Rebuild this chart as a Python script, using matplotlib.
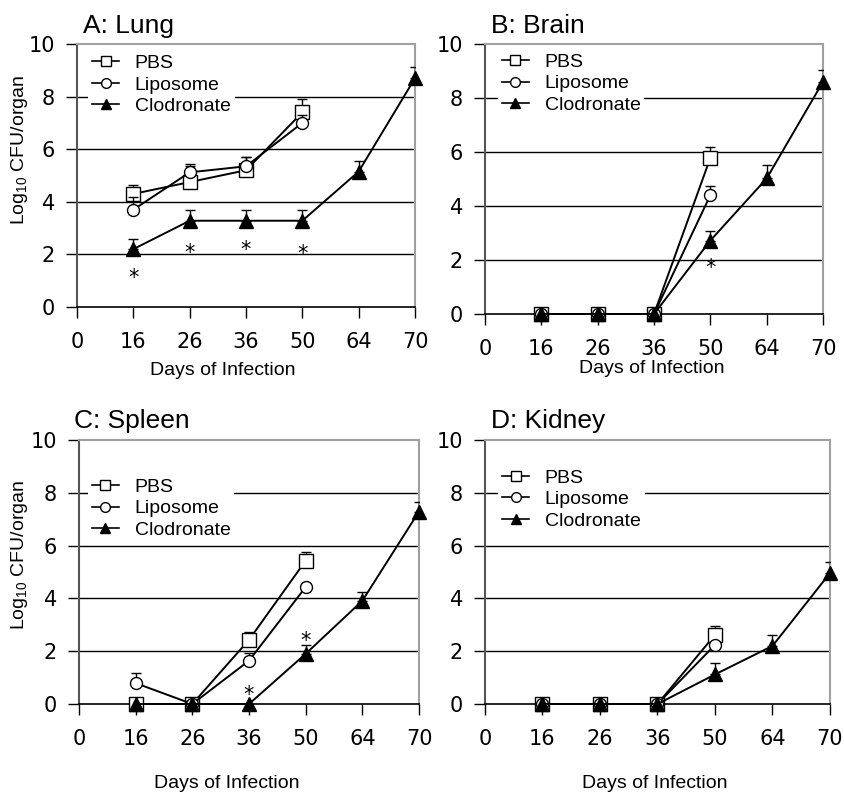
import matplotlib
matplotlib.use('Agg')
import matplotlib.pyplot as plt
from matplotlib.lines import Line2D

plt.rcParams['mathtext.default'] = 'regular'

day_labels = ['0', '16', '26', '36', '50', '64', '70']
early_days = ['16', '26', '36', '50']
all_days = ['16', '26', '36', '50', '64', '70']
legend_labels = ['PBS', 'Liposome', 'Clodronate']

# A: Lung
lung_pbs = [4.3, 4.75, 5.2, 7.4]
lung_pbs_err = [0.35, 0.6, 0.5, 0.5]
lung_lipo = [3.7, 5.12, 5.35, 7.0]
lung_lipo_err = [0.5, 0.3, 0.35, 0.3]
lung_clo = [2.2, 3.28, 3.28, 3.28, 5.15, 8.7]
lung_clo_err = [0.4, 0.42, 0.42, 0.42, 0.42, 0.42]
lung_star_days = ['16', '26', '36', '50']
lung_star_y = [1.36, 2.3, 2.4, 2.25]

# B: Brain
brain_pbs = [0, 0, 0, 5.78]
brain_pbs_err = [0, 0, 0, 0.4]
brain_lipo = [0, 0, 0, 4.4]
brain_lipo_err = [0, 0, 0, 0.35]
brain_clo = [0, 0, 0, 2.72, 5.02, 8.6]
brain_clo_err = [0, 0, 0, 0.37, 0.5, 0.45]
brain_star_days = ['50']
brain_star_y = [1.95]

# C: Spleen
spleen_pbs = [0, 0, 2.43, 5.43]
spleen_pbs_err = [0, 0, 0.3, 0.32]
spleen_lipo = [0.79, 0, 1.64, 4.43]
spleen_lipo_err = [0.38, 0, 0.3, 0]
spleen_clo = [0, 0, 0, 1.9, 3.91, 7.29]
spleen_clo_err = [0, 0, 0, 0.33, 0.33, 0.38]
spleen_star_days = ['36', '50']
spleen_star_y = [0.6, 2.65]

# D: Kidney
kidney_pbs = [0, 0, 0, 2.62]
kidney_pbs_err = [0, 0, 0, 0.32]
kidney_lipo = [0, 0, 0, 2.24]
kidney_lipo_err = [0, 0, 0, 0]
kidney_clo = [0, 0, 0, 1.12, 2.2, 4.96]
kidney_clo_err = [0, 0, 0, 0.42, 0.4, 0.4]
kidney_star_days = []
kidney_star_y = []

W, H = 844, 793
fig = plt.figure(figsize=(W / 100, H / 100), dpi=100)

SANS = 'Liberation Sans'


def px_axes(l, t, r, b):
    return fig.add_axes([l / W, 1 - b / H, (r - l) / W, (b - t) / H])


def xpos(days):
    return [day_labels.index(d) for d in days]


def series(ax, days, vals, errs, marker, mfc, ms, z):
    x = xpos(days)
    ax.plot(x, vals, color='black', lw=1.4, marker=marker, mfc=mfc, mec='black',
            mew=1.0, ms=ms, zorder=z, clip_on=False)
    ex = [xi for xi, e in zip(x, errs) if e > 0]
    ey = [v for v, e in zip(vals, errs) if e > 0]
    ee = [e for e in errs if e > 0]
    if ex:
        ax.errorbar(ex, ey, yerr=[[0] * len(ee), ee], fmt='none', ecolor='black',
                    elinewidth=1.0, capsize=3.5, capthick=1.0, zorder=z - 0.5)


def panel(ax, pbs, pbs_err, lipo, lipo_err, clo, clo_err, sdays, sy, anchor):
    ax.set_xlim(0, 6)
    ax.set_ylim(0, 10)
    ax.set_xticks(range(len(day_labels)))
    ax.set_xticklabels(day_labels)
    ax.set_yticks(range(0, 11, 2))
    for y in [2, 4, 6, 8]:
        ax.axhline(y, color='black', lw=1.0, zorder=1)
    for s in ['top', 'right']:
        ax.spines[s].set_color('#a0a0a0')
        ax.spines[s].set_linewidth(1.5)
    ax.spines['left'].set_color('#555555')
    ax.spines['left'].set_linewidth(1.5)
    ax.spines['bottom'].set_color('black')
    ax.spines['bottom'].set_linewidth(1.2)
    ax.tick_params(axis='both', direction='out', length=8, width=1, color='black',
                   labelsize=15)
    ax.tick_params(axis='x', pad=10)
    ax.tick_params(axis='y', pad=8)
    series(ax, early_days, pbs, pbs_err, 's', 'white', 9.4, 5)
    series(ax, early_days, lipo, lipo_err, 'o', 'white', 8.6, 6)
    series(ax, all_days, clo, clo_err, '^', 'black', 10.5, 7)
    for d, y in zip(sdays, sy):
        ax.annotate('*', xy=(day_labels.index(d), y), xytext=(0, -9),
                    textcoords='offset points', ha='center', va='baseline',
                    fontsize=15, zorder=8)
    handles = [
        Line2D([], [], color='black', lw=1.2, marker='s', mfc='white', mec='black', ms=7),
        Line2D([], [], color='black', lw=1.2, marker='o', mfc='white', mec='black', ms=7),
        Line2D([], [], color='black', lw=1.2, marker='^', mfc='black', mec='black', ms=7),
    ]
    leg = ax.legend(handles, legend_labels, loc='upper left', bbox_to_anchor=anchor,
                    frameon=True, fancybox=False, framealpha=1, facecolor='white',
                    prop={'family': SANS, 'size': 14}, handlelength=1.4,
                    handletextpad=0.8, labelspacing=0.2, borderpad=0.2,
                    borderaxespad=0)
    leg.get_frame().set_linewidth(0)
    leg.set_zorder(3)


axA = px_axes(77, 44, 415, 307)
axB = px_axes(485, 44, 823, 314)
axC = px_axes(79, 440, 419, 704)
axD = px_axes(485, 440, 830, 704)

panel(axA, lung_pbs, lung_pbs_err, lung_lipo, lung_lipo_err, lung_clo, lung_clo_err,
      lung_star_days, lung_star_y, (0.033, 0.975))
panel(axB, brain_pbs, brain_pbs_err, brain_lipo, brain_lipo_err, brain_clo, brain_clo_err,
      brain_star_days, brain_star_y, (0.038, 0.98))
panel(axC, spleen_pbs, spleen_pbs_err, spleen_lipo, spleen_lipo_err, spleen_clo,
      spleen_clo_err, spleen_star_days, spleen_star_y, (0.026, 0.87))
panel(axD, kidney_pbs, kidney_pbs_err, kidney_lipo, kidney_lipo_err, kidney_clo,
      kidney_clo_err, kidney_star_days, kidney_star_y, (0.038, 0.905))


def ftext(x, y, s, **kw):
    fig.text(x / W, 1 - y / H, s, **kw)


ftext(83, 33, 'A: Lung', fontsize=19, family=SANS, va='baseline', ha='left')
ftext(491, 33, 'B: Brain', fontsize=19, family=SANS, va='baseline', ha='left')
ftext(74, 428, 'C: Spleen', fontsize=19, family=SANS, va='baseline', ha='left')
ftext(491, 428, 'D: Kidney', fontsize=19, family=SANS, va='baseline', ha='left')

ftext(223, 375, 'Days of Infection', fontsize=14, family=SANS, va='baseline', ha='center')
ftext(652, 373, 'Days of Infection', fontsize=14, family=SANS, va='baseline', ha='center')
ftext(227, 788, 'Days of Infection', fontsize=14, family=SANS, va='baseline', ha='center')
ftext(655, 788, 'Days of Infection', fontsize=14, family=SANS, va='baseline', ha='center')

ftext(20, 150, 'Log$_{10}$ CFU/organ', fontsize=14, family=SANS, rotation=90,
      va='center', ha='center')
ftext(20, 555, 'Log$_{10}$ CFU/organ', fontsize=14, family=SANS, rotation=90,
      va='center', ha='center')

fig.savefig('out.png', dpi=100)
